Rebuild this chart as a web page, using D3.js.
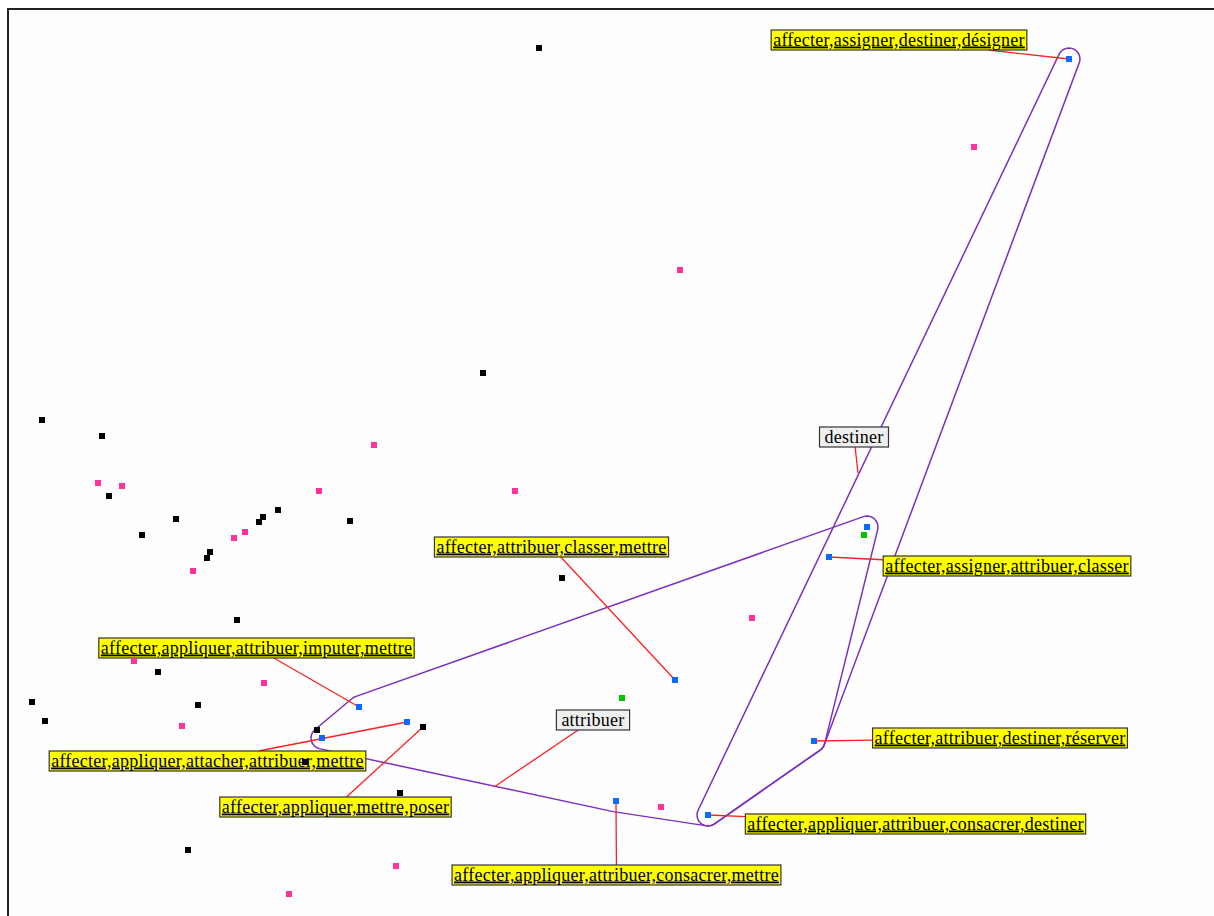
<!DOCTYPE html>
<html>
<head>
<meta charset="utf-8">
<script src="https://cdn.jsdelivr.net/npm/d3@7"></script>
<style>
  html, body { margin: 0; padding: 0; background: #fff; overflow: hidden; }
</style>
</head>
<body>
<div id="box"></div>
<script>
// canvas
const width = 1214
const height = 916
const origin = {left: 8, top: 9}

// semantic space coordinates (unit = screen unit of the original plot)
const blackX = [531, 475, 34, 94, 101, 168, 134, 199, 202, 251, 255, 270, 342, 229, 554, 150, 24, 37, 190, 309, 297, 392, 180]
const blackY = [39, 364, 411, 427, 487, 510, 526, 549, 543, 513, 508, 501, 512, 611, 569, 663, 693, 712, 696, 721, 753, 784, 841]

const pinkX = [966, 672, 366, 311, 507, 90, 114, 185, 226, 237, 744, 126, 256, 174, 653, 388, 281]
const pinkY = [138, 261, 436, 482, 482, 474, 477, 562, 529, 523, 609, 652, 674, 717, 798, 857, 885]

const greenX = [856, 614]
const greenY = [526, 689]

// cliques
const cliqueNames = [
  'affecter,assigner,destiner,désigner',
  'affecter,assigner,attribuer',
  'affecter,assigner,attribuer,classer',
  'affecter,attribuer,classer,mettre',
  'affecter,appliquer,attribuer,imputer,mettre',
  'affecter,appliquer,attacher,attribuer,mettre',
  'affecter,appliquer,attribuer,mettre',
  'affecter,appliquer,attribuer,consacrer,mettre',
  'affecter,attribuer,destiner,réserver',
  'affecter,appliquer,attribuer,consacrer,destiner',
  'affecter,appliquer,mettre,poser'
]
const cliqueX = [1061, 859, 821, 667, 351, 399, 314, 608, 806, 700, 415]
const cliqueY = [50, 518, 548, 671, 698, 713, 729, 792, 732, 806, 718]
const cliqueShown = [true, false, true, true, true, true, false, true, true, true, true]
const cliqueKind = ['c', 'c', 'c', 'c', 'c', 'c', 'c', 'c', 'c', 'c', 'w']

// words whose cliques are enclosed
const hullWords = ['destiner', 'attribuer']
const hullAnchorX = [850, 486]
const hullAnchorY = [464, 778]

// label layout (centre of each box)
const labelCX = {
  'affecter,assigner,destiner,désigner': 891,
  'affecter,assigner,attribuer,classer': 999,
  'affecter,attribuer,classer,mettre': 543.5,
  'affecter,appliquer,attribuer,imputer,mettre': 248.5,
  'affecter,appliquer,attacher,attribuer,mettre': 199.5,
  'affecter,appliquer,mettre,poser': 327.5,
  'affecter,appliquer,attribuer,consacrer,mettre': 608.5,
  'affecter,attribuer,destiner,réserver': 992,
  'affecter,appliquer,attribuer,consacrer,destiner': 907.5,
  'destiner': 846,
  'attribuer': 585
}
const labelCY = {
  'affecter,assigner,destiner,désigner': 31,
  'affecter,assigner,attribuer,classer': 557,
  'affecter,attribuer,classer,mettre': 538,
  'affecter,appliquer,attribuer,imputer,mettre': 639,
  'affecter,appliquer,attacher,attribuer,mettre': 752,
  'affecter,appliquer,mettre,poser': 798,
  'affecter,appliquer,attribuer,consacrer,mettre': 866,
  'affecter,attribuer,destiner,réserver': 729,
  'affecter,appliquer,attribuer,consacrer,destiner': 815,
  'destiner': 428,
  'attribuer': 711
}

const x = d3.scaleLinear().domain([0, width - origin.left]).range([origin.left, width])
const y = d3.scaleLinear().domain([0, height - origin.top]).range([origin.top, height])

const color = {black: '#000000', pink: '#ff3399', green: '#00c400', c: '#0a6cff', w: '#000000'}
const pad = 11     // hull padding
const sq = 6       // point size

const svg = d3.select('#box').append('svg')
  .attr('width', width)
  .attr('height', height)
  .style('display', 'block')

svg.append('rect')
  .attr('x', origin.left).attr('y', origin.top)
  .attr('width', width + 10).attr('height', height + 10)
  .attr('fill', '#fefefe')
  .attr('stroke', '#222').attr('stroke-width', 2)

// hulls
const hullG = svg.append('g')
const hullPolys = hullWords.map(w => {
  const pts = []
  cliqueNames.forEach((n, i) => {
    if (n.split(',').includes(w)) {
      const px = x(cliqueX[i]), py = y(cliqueY[i])
      d3.range(24).forEach(k => {
        const a = k / 24 * Math.PI * 2
        pts.push([px + pad * Math.cos(a), py + pad * Math.sin(a)])
      })
    }
  })
  return d3.polygonHull(pts)
})
hullG.selectAll('path').data(hullPolys).join('path')
  .attr('d', d => d3.line().curve(d3.curveLinearClosed)(d))
  .attr('fill', 'none')
  .attr('stroke', '#7b2fc0')
  .attr('stroke-width', 1.5)

// clip a segment from box centre to target at the box border
function clipToBox(cx, cy, hw, hh, tx, ty) {
  const dx = tx - cx, dy = ty - cy
  const s = Math.min(dx ? hw / Math.abs(dx) : Infinity, dy ? hh / Math.abs(dy) : Infinity)
  return [cx + dx * s, cy + dy * s]
}

// labels: clique labels then hull labels
const labels = []
cliqueNames.forEach((n, i) => {
  if (cliqueShown[i]) labels.push({text: n, tx: x(cliqueX[i]), ty: y(cliqueY[i]), fill: '#ffff00', under: true})
})
hullWords.forEach((w, i) => {
  labels.push({text: w, tx: x(hullAnchorX[i]), ty: y(hullAnchorY[i]), fill: '#efefef', under: false})
})

const linkG = svg.append('g')
const labelG = svg.append('g')
  .style('font', '18px "Liberation Serif", "DejaVu Serif", serif')
  .style('letter-spacing', '0.25px')

labels.forEach(d => {
  const cx = x(labelCX[d.text]), cy = y(labelCY[d.text])
  const g = labelG.append('g')
  const rect = g.append('rect')
  const t = g.append('text')
    .attr('x', cx).attr('y', cy + 5.5)
    .attr('text-anchor', 'middle')
    .attr('fill', '#000')
    .style('text-decoration', d.under ? 'underline' : 'none')
    .text(d.text)
  const w = t.node().getBBox().width + (d.under ? 4 : 10)
  const h = 20
  rect.attr('x', cx - w / 2).attr('y', cy - h / 2)
    .attr('width', w).attr('height', h)
    .attr('fill', d.fill)
    .attr('stroke', '#333').attr('stroke-width', 1.2)
  const [sx, sy] = clipToBox(cx, cy, w / 2, h / 2, d.tx, d.ty)
  linkG.append('line')
    .attr('x1', sx).attr('y1', sy)
    .attr('x2', d.tx).attr('y2', d.ty)
    .attr('stroke', '#ff2020').attr('stroke-width', 1.3)
})

// points
const pointG = svg.append('g')
function drawSquares(xs, ys, fill) {
  pointG.append('g').selectAll('rect').data(d3.range(xs.length)).join('rect')
    .attr('x', i => x(xs[i]) - sq / 2)
    .attr('y', i => y(ys[i]) - sq / 2)
    .attr('width', sq).attr('height', sq)
    .attr('fill', fill)
}
drawSquares(blackX, blackY, color.black)
drawSquares(pinkX, pinkY, color.pink)
drawSquares(greenX, greenY, color.green)
pointG.append('g').selectAll('rect').data(d3.range(cliqueNames.length)).join('rect')
  .attr('x', i => x(cliqueX[i]) - sq / 2)
  .attr('y', i => y(cliqueY[i]) - sq / 2)
  .attr('width', sq).attr('height', sq)
  .attr('fill', i => color[cliqueKind[i]])
</script>
</body>
</html>
